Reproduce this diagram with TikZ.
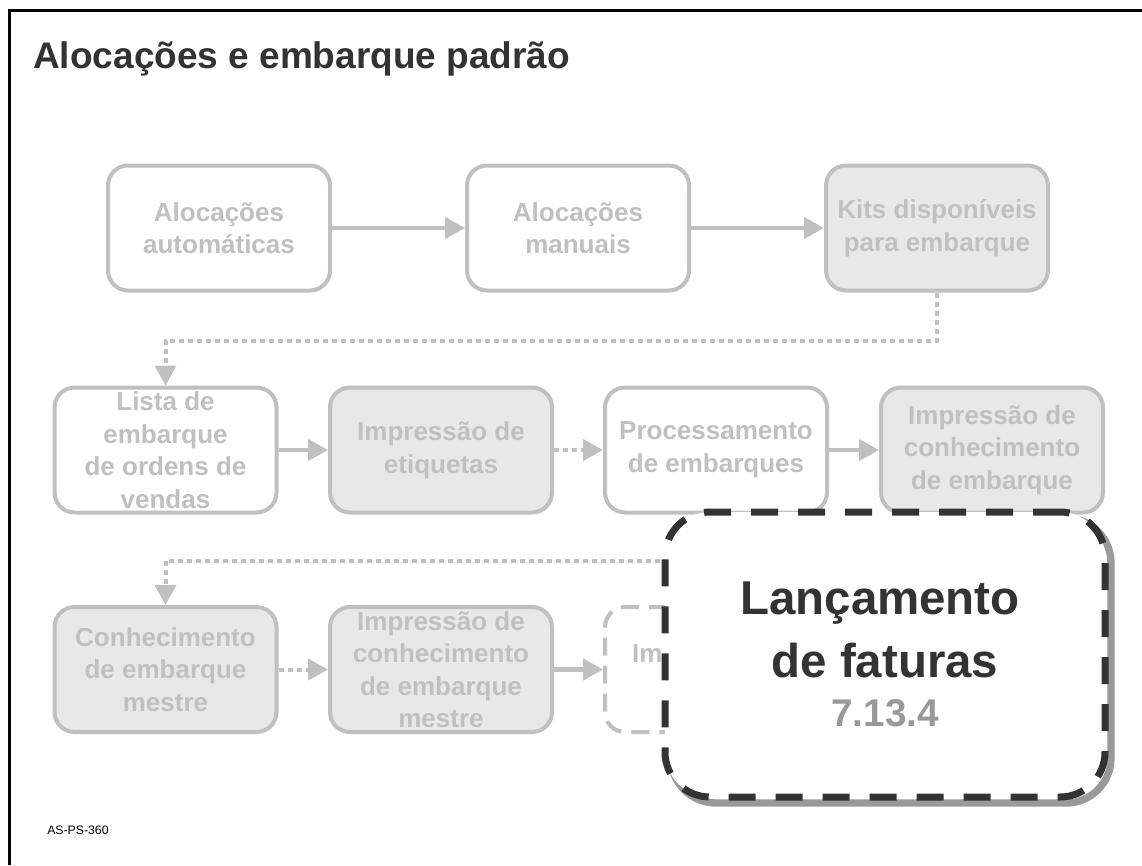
\documentclass[tikz,border=0pt]{standalone}
\usepackage{fontspec}
\setmainfont{Liberation Sans}
\usetikzlibrary{arrows.meta,shadows}
\definecolor{boxgray}{HTML}{C0C0C0}
\definecolor{fillgray}{HTML}{E8E8E8}
\definecolor{darktext}{HTML}{333333}
\definecolor{shadowgray}{HTML}{999999}
\definecolor{numgray}{HTML}{999999}
\begin{document}
\begin{tikzpicture}[x=0.75pt,y=-0.75pt,
  stepbox/.style={draw=boxgray, line width=3pt, rounded corners=15pt,
    minimum width=166.5pt, minimum height=93.75pt, inner sep=0pt,
    align=center, text=boxgray,
    font=\bfseries\fontsize{19.5pt}{24.4pt}\selectfont},
  openbox/.style={stepbox, fill=white},
  greybox/.style={stepbox, fill=fillgray},
  ghostbox/.style={stepbox, fill=white, dash pattern=on 13.5pt off 7.5pt},
  solidarrow/.style={draw=boxgray, line width=3.4pt,
    -{Triangle[length=15pt,width=15.75pt]}},
  dotarrow/.style={draw=boxgray, line width=3pt, dash pattern=on 3.75pt off 3pt,
    -{Triangle[length=15pt,width=15.75pt]}},
  bigbox/.style={draw=darktext, fill=white, line width=5.25pt,
    dash pattern=on 20.25pt off 15pt, rounded corners=33.75pt,
    minimum width=330pt, minimum height=213.75pt, inner sep=0pt,
    align=center, text=darktext,
    font=\bfseries\fontsize{35.6pt}{47pt}\selectfont,
    drop shadow={shadow xshift=4.5pt, shadow yshift=-4.5pt, fill=none,
      draw=shadowgray, line width=5.5pt, solid, opacity=1}},
  titletext/.style={anchor=base west, inner sep=0pt, text=darktext,
    font=\bfseries\fontsize{27.75pt}{33pt}\selectfont},
  foottext/.style={anchor=west, inner sep=0pt, text=black,
    font=\fontsize{9.2pt}{11pt}\selectfont},
  frameline/.style={draw=black, line width=2.25pt}
]
\useasboundingbox (0,0) rectangle (1142,865);
\fill[white] (0,0) rectangle (1142,865);

% frame
\draw[frameline] (9.5,865) -- (9.5,10.5) -- (1142,10.5);

% title and footer
\node[titletext] (title) at (33,68) {Alocações e embarque padrão};
\node[foottext] (foot) at (47,830) {AS-PS-360};

% row 1
\node[openbox] (b1) at (219,228) {Alocações\\automáticas};
\node[openbox] (b2) at (578,228) {Alocações\\manuais};
\node[greybox] (b3) at (937,228) {Kits disponíveis\\para embarque};

% row 2
\node[openbox] (b4) at (165.5,450) {Lista de\\embarque\\de ordens de\\vendas};
\node[greybox] (b5) at (441,450) {Impressão de\\etiquetas};
\node[openbox] (b6) at (716,450) {Processamento\\de embarques};
\node[greybox] (b7) at (992,450) {Impressão de\\conhecimento\\de embarque};

% row 3
\node[greybox] (b8) at (165.5,669.5) {Conhecimento\\de embarque\\mestre};
\node[greybox] (b9) at (441,669.5) {Impressão de\\conhecimento\\de embarque\\mestre};
\node[ghostbox] (b10) at (716,669.5) {Im\hphantom{pressão de}\\\hphantom{faturas}};

% connectors
\draw[solidarrow] (b1) -- (b2);
\draw[solidarrow] (b2) -- (b3);
\draw[dotarrow] (b3.south) -- ++(0,48) -| (b4.north);
\draw[solidarrow] (b4) -- (b5);
\draw[dotarrow] (b5) -- (b6);
\draw[solidarrow] (b6) -- (b7);
\draw[dotarrow] (b7.south) -- ++(0,46) -| (b8.north);
\draw[dotarrow] (b8) -- (b9);
\draw[solidarrow] (b9) -- (b10);

% highlighted step
\node[bigbox] (lanc) at (885,654.5)
  {Lançamento\hspace*{7.5pt}\\de faturas\hspace*{7.5pt}\\[-10.25pt]{\fontsize{29pt}{35pt}\selectfont\color{numgray}7.13.4}};
\end{tikzpicture}
\end{document}
